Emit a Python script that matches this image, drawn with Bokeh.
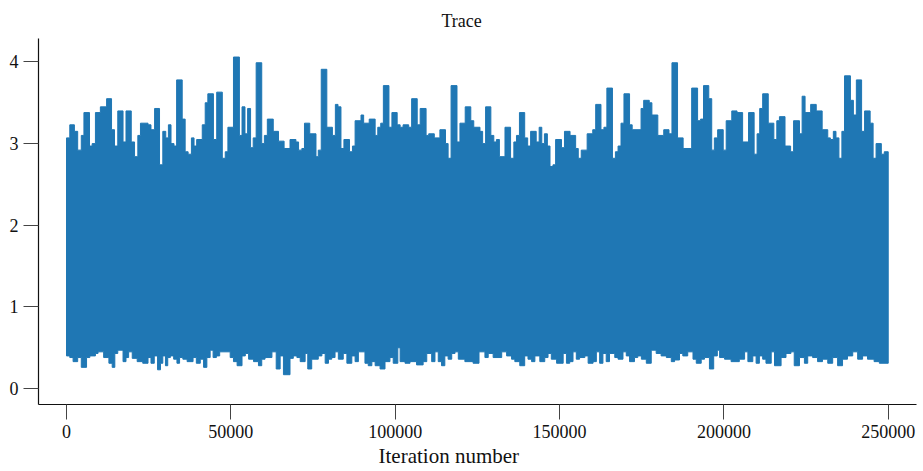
from bokeh.plotting import figure
from bokeh.models import Range1d, FixedTicker, Title
from bokeh.embed import file_html
from bokeh.resources import INLINE

# ---- data: trace envelope (iteration where a level starts, level) ----
n_iterations = 250000

upper_start = [
    0, 1000, 2400, 3400, 4500, 5300, 7000, 7800, 8800, 10300,
    12200, 13700, 14600, 15600, 17200, 18100, 19700, 20700, 21700, 22500,
    24800, 25700, 26800, 28300, 29300, 30200, 31000, 31800, 32700, 33500,
    35200, 36100, 37000, 38000, 38800, 39600, 41300, 42200, 43000, 44700,
    45700, 47400, 48300, 49100, 50800, 52600, 53400, 54300, 55100, 56000,
    56800, 57700, 59400, 60200, 61100, 62900, 64500, 66200, 68000, 69800,
    70600, 71600, 72400, 74000, 75900, 76600, 77500, 79200, 80900, 81800,
    82600, 83500, 84400, 86100, 87000, 87800, 89600, 90400, 92100, 93900,
    94700, 95600, 96400, 98100, 99000, 100600, 101500, 102400, 104100, 105000,
    106700, 107600, 109400, 110200, 111900, 113600, 115300, 116100, 117000, 118800,
    119700, 121300, 123000, 123900, 125800, 126600, 127500, 129100, 130000, 130800,
    131700, 133400, 135100, 136100, 136900, 137800, 139400, 140300, 141200, 142900,
    143800, 144600, 145400, 146300, 147100, 148000, 148800, 150600, 151500, 153200,
    154900, 155700, 156600, 158400, 160100, 161000, 162600, 163500, 164400, 166100,
    167000, 167800, 168700, 169600, 171300, 172100, 174800, 175600, 177300, 178100,
    179900, 181700, 183300, 184200, 185900, 187600, 190200, 192000, 192900, 193800,
    195400, 196300, 197100, 198100, 199800, 200700, 202400, 204000, 205700, 207500,
    209200, 210100, 210900, 211800, 213500, 215200, 216100, 216900, 218600, 220300,
    221200, 223000, 223800, 224700, 226400, 228100, 229900, 231600, 232400, 233300,
    234100, 235000, 235900, 236700, 238500, 239400, 240300, 241900, 242800, 244500,
    245400, 246300, 247900, 248800,
]
upper_value = [
    3.07, 3.23, 3.15, 2.92, 3.10, 3.38, 2.97, 3.00, 3.38, 3.45,
    3.55, 3.17, 2.97, 3.40, 3.02, 3.40, 3.02, 2.84, 3.10, 3.25,
    3.23, 3.17, 3.43, 2.74, 3.15, 3.07, 3.23, 3.00, 2.97, 3.78,
    3.30, 2.90, 2.87, 3.07, 2.97, 3.05, 3.23, 3.50, 3.61, 3.05,
    3.63, 2.82, 2.90, 3.20, 4.06, 3.10, 3.45, 3.12, 3.43, 2.95,
    3.07, 3.99, 3.00, 3.10, 3.30, 3.15, 3.03, 2.94, 3.05, 3.02,
    2.92, 2.94, 3.25, 3.12, 2.84, 2.92, 3.91, 3.20, 3.10, 3.48,
    3.45, 2.94, 3.05, 2.90, 2.97, 3.28, 3.35, 3.25, 3.30, 3.10,
    3.20, 3.25, 3.71, 3.20, 3.38, 3.23, 3.20, 3.23, 3.20, 3.55,
    3.23, 3.43, 3.10, 3.12, 3.07, 3.17, 3.00, 2.82, 3.71, 3.02,
    3.25, 3.45, 3.28, 3.20, 3.15, 3.00, 3.45, 3.10, 3.02, 3.05,
    2.84, 3.20, 2.82, 3.02, 3.10, 3.38, 3.07, 2.97, 3.15, 3.02,
    3.20, 3.00, 3.12, 2.97, 2.72, 2.74, 3.05, 2.95, 3.15, 3.10,
    2.94, 2.82, 2.92, 3.12, 3.17, 3.48, 3.17, 3.20, 3.68, 2.82,
    2.90, 2.97, 3.25, 3.61, 3.23, 3.17, 3.43, 3.53, 3.50, 3.35,
    3.10, 3.17, 3.12, 3.99, 3.07, 2.94, 3.68, 3.28, 3.30, 3.71,
    3.55, 2.92, 3.07, 3.17, 2.92, 3.28, 3.40, 3.38, 3.02, 3.38,
    2.87, 3.12, 3.43, 3.61, 3.25, 3.05, 3.28, 3.33, 2.97, 2.90,
    3.28, 3.12, 3.58, 3.38, 3.48, 3.40, 3.17, 3.07, 3.05, 3.15,
    3.07, 2.82, 3.15, 3.83, 3.53, 3.35, 3.78, 3.15, 3.40, 3.25,
    2.82, 3.00, 2.87, 2.90,
]

lower_start = [
    0, 1000, 2000, 3400, 4500, 6100, 7100, 8800, 9600, 11300,
    12900, 13900, 14700, 15600, 17200, 18100, 18900, 20000, 21500, 23200,
    24800, 25700, 26700, 27700, 28600, 29300, 30100, 30800, 31600, 32600,
    33600, 34400, 35400, 36700, 38500, 39500, 40700, 41700, 42700, 43700,
    44600, 45600, 46600, 49800, 50800, 51900, 53400, 54400, 55400, 56900,
    58400, 59400, 60400, 62500, 63800, 65000, 66000, 68000, 69000, 70100,
    71100, 72600, 73400, 74600, 76600, 77700, 78700, 79700, 80700, 81700,
    82700, 84200, 85300, 86800, 87800, 88800, 90800, 91800, 92900, 93900,
    95400, 96900, 98400, 99400, 100800, 101500, 103000, 104500, 106500, 108500,
    109600, 111100, 112100, 113100, 114100, 115100, 116100, 117200, 118200, 119200,
    121200, 123700, 125500, 127300, 128300, 129800, 132400, 133900, 135400, 136400,
    137900, 139400, 140400, 141500, 142500, 144000, 145500, 146500, 147500, 149100,
    151100, 152100, 153100, 154100, 155100, 156100, 157700, 158700, 160200, 161200,
    162200, 163200, 164200, 165200, 166800, 167800, 169300, 170300, 171300, 172800,
    173800, 174900, 176400, 177900, 179400, 180900, 182500, 184000, 185000, 186500,
    187500, 189000, 190600, 191600, 193100, 194100, 195600, 196900, 198000, 198700,
    200200, 202200, 204700, 206300, 207300, 208800, 209800, 210800, 211800, 212800,
    214400, 215400, 217400, 218900, 220400, 221400, 223000, 224500, 225500, 227000,
    228500, 230000, 231600, 233100, 234600, 236100, 237600, 239200, 240700, 242200,
    243700, 245700, 247300,
]
lower_value = [
    0.40, 0.38, 0.33, 0.38, 0.26, 0.38, 0.40, 0.43, 0.45, 0.38,
    0.31, 0.26, 0.43, 0.47, 0.33, 0.38, 0.45, 0.37, 0.33, 0.31,
    0.38, 0.31, 0.40, 0.23, 0.31, 0.40, 0.28, 0.38, 0.40, 0.36,
    0.31, 0.38, 0.36, 0.33, 0.38, 0.31, 0.36, 0.26, 0.38, 0.47,
    0.38, 0.40, 0.45, 0.38, 0.33, 0.28, 0.40, 0.43, 0.36, 0.33,
    0.28, 0.36, 0.38, 0.45, 0.24, 0.40, 0.17, 0.37, 0.40, 0.38,
    0.33, 0.43, 0.24, 0.36, 0.40, 0.43, 0.31, 0.36, 0.38, 0.45,
    0.36, 0.43, 0.31, 0.40, 0.33, 0.45, 0.31, 0.28, 0.33, 0.28,
    0.24, 0.33, 0.38, 0.31, 0.50, 0.33, 0.31, 0.33, 0.29, 0.33,
    0.43, 0.33, 0.45, 0.33, 0.28, 0.40, 0.36, 0.43, 0.45, 0.36,
    0.33, 0.31, 0.45, 0.38, 0.43, 0.38, 0.45, 0.40, 0.36, 0.33,
    0.28, 0.40, 0.36, 0.33, 0.40, 0.33, 0.38, 0.43, 0.36, 0.31,
    0.43, 0.31, 0.33, 0.45, 0.36, 0.38, 0.40, 0.31, 0.33, 0.45,
    0.31, 0.43, 0.33, 0.43, 0.38, 0.36, 0.45, 0.40, 0.33, 0.38,
    0.40, 0.36, 0.31, 0.47, 0.43, 0.40, 0.38, 0.33, 0.35, 0.43,
    0.40, 0.45, 0.36, 0.31, 0.36, 0.38, 0.24, 0.40, 0.47, 0.38,
    0.36, 0.33, 0.36, 0.45, 0.33, 0.40, 0.31, 0.40, 0.36, 0.31,
    0.45, 0.28, 0.38, 0.43, 0.45, 0.28, 0.38, 0.31, 0.40, 0.38,
    0.33, 0.36, 0.31, 0.38, 0.28, 0.36, 0.40, 0.45, 0.36, 0.40,
    0.36, 0.33, 0.31,
]

x_ticks = [0, 50000, 100000, 150000, 200000, 250000]
x_tick_labels = ["0", "50000", "100000", "150000", "200000", "250000"]
y_ticks = [0, 1, 2, 3, 4]
y_tick_labels = ["0", "1", "2", "3", "4"]

title_text = "Trace"
x_label = "Iteration number"

assert len(upper_start) == len(upper_value)
assert len(lower_start) == len(lower_value)


def step_outline(starts, levels, end):
    xs, ys = [], []
    for i, (s, v) in enumerate(zip(starts, levels)):
        e = starts[i + 1] if i + 1 < len(starts) else end
        xs += [s, e]
        ys += [v, v]
    return xs, ys


ux, uy = step_outline(upper_start, upper_value, n_iterations)
lx, ly = step_outline(lower_start, lower_value, n_iterations)
band_x = ux + lx[::-1]
band_y = uy + ly[::-1]

FONT = "Liberation Serif"
BLUE = "#1f77b4"
INK = "#111111"

p = figure(
    width=923, height=471,
    output_backend="svg", toolbar_location=None,
    x_range=Range1d(-8520, 258600), y_range=Range1d(-0.195, 4.287),
    min_border_left=38, min_border_right=7, min_border_top=38, min_border_bottom=67,
    background_fill_color="white", border_fill_color="white",
)
p.outline_line_color = None
p.grid.visible = False

p.patch(band_x, band_y, fill_color=BLUE, line_color=BLUE, line_width=1)

# title
p.title.text = title_text
p.title.text_font = FONT
p.title.text_font_size = "18px"
p.title.text_font_style = "normal"
p.title.text_color = INK
p.title.align = "left"
p.title.offset = 403
p.title.standoff = 16

for ax in (p.xaxis[0], p.yaxis[0]):
    ax.axis_line_color = INK
    ax.axis_line_width = 1.2
    ax.major_tick_line_color = "#444444"
    ax.major_tick_line_width = 1
    ax.major_tick_out = 15
    ax.major_tick_in = 0
    ax.minor_tick_line_color = None
    ax.major_label_text_font = FONT
    ax.major_label_text_font_size = "18px"
    ax.major_label_text_color = INK

p.xaxis.ticker = FixedTicker(ticks=x_ticks)
p.xaxis.major_label_overrides = {t: s for t, s in zip(x_ticks, x_tick_labels)}
p.xaxis.major_label_standoff = 5
p.yaxis.ticker = FixedTicker(ticks=y_ticks)
p.yaxis.major_label_overrides = {t: s for t, s in zip(y_ticks, y_tick_labels)}
p.yaxis.major_label_standoff = 5

xl = Title(text=x_label, text_font=FONT, text_font_size="21px", text_font_style="normal",
           text_color=INK, text_line_height=1.0, align="left", offset=340, standoff=3)
p.add_layout(xl, "below")

open("out.html", "w").write(file_html(p, INLINE))
